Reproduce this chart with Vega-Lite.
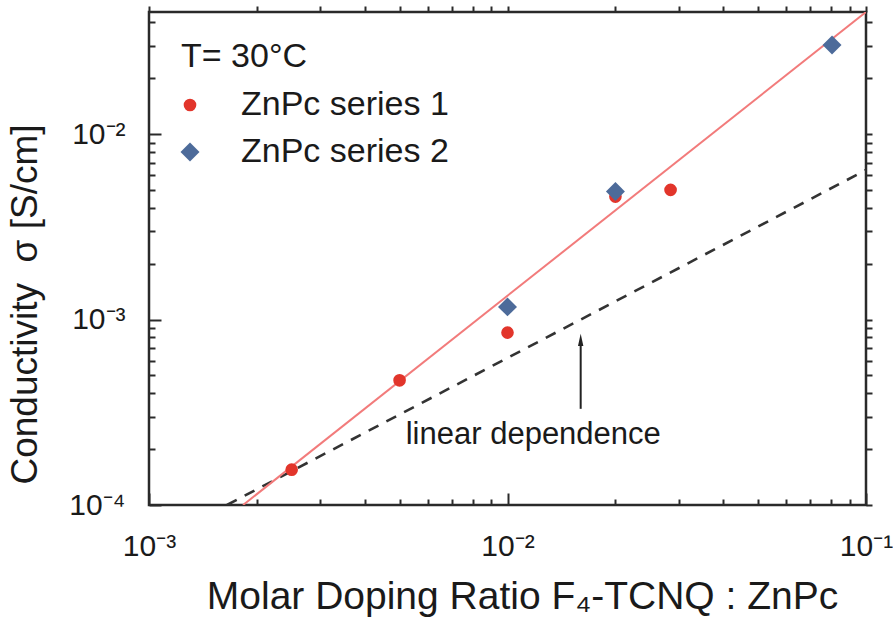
{
  "$schema": "https://vega.github.io/schema/vega-lite/v6.json",
  "width": 717,
  "height": 493,
  "autosize": {"type": "none"},
  "padding": {"left": 149, "top": 12, "right": 27, "bottom": 125},
  "background": "white",
  "config": {
    "font": "Liberation Sans",
    "view": {"stroke": "#2a2a2a", "strokeWidth": 2.5},
    "axis": {"domain": false, "grid": false, "tickColor": "#2a2a2a", "tickWidth": 2, "labelColor": "#1a1a1a", "titleColor": "#1a1a1a", "titleFontWeight": "normal", "labelFont": "Liberation Sans", "titleFont": "Liberation Sans"}
  },
  "datasets": {
    "points": [
      {"ratio": 0.0025, "sigma": 0.000155, "series": "ZnPc series 1"},
      {"ratio": 0.005, "sigma": 0.00047, "series": "ZnPc series 1"},
      {"ratio": 0.01, "sigma": 0.00085, "series": "ZnPc series 1"},
      {"ratio": 0.02, "sigma": 0.0046, "series": "ZnPc series 1"},
      {"ratio": 0.0285, "sigma": 0.005, "series": "ZnPc series 1"},
      {"ratio": 0.01, "sigma": 0.00117, "series": "ZnPc series 2"},
      {"ratio": 0.02, "sigma": 0.0049, "series": "ZnPc series 2"},
      {"ratio": 0.0804, "sigma": 0.0302, "series": "ZnPc series 2"}
    ],
    "fit": [
      {"ratio": 0.00183, "sigma": 0.0001},
      {"ratio": 0.1, "sigma": 0.0455}
    ],
    "linear": [
      {"ratio": 0.00165, "sigma": 0.0001},
      {"ratio": 0.1, "sigma": 0.0064}
    ],
    "arrow": [
      {"ratio": 0.016, "lo": 0.00033, "hi": 0.00074, "tip": 0.00077}
    ],
    "label": [
      {"ratio": 0.0118, "sigma": 0.000238, "text": "linear dependence"}
    ]
  },
  "resolve": {"axis": {"x": "independent", "y": "independent"}},
  "layer": [
    {
      "data": {"name": "linear"},
      "mark": {"type": "line", "color": "#333333", "strokeWidth": 2.6, "strokeDash": [11, 9], "clip": true},
      "encoding": {
        "x": {"field": "ratio", "type": "quantitative",
          "scale": {"type": "log", "domain": [0.001, 0.1], "nice": false},
          "axis": {"orient": "bottom", "title": "Molar Doping Ratio F₄-TCNQ : ZnPc", "titleFontSize": 39, "titlePadding": 10, "titleX": 373,
            "values": [0.001,0.002,0.003,0.004,0.005,0.006,0.007,0.008,0.009,0.01,0.02,0.03,0.04,0.05,0.06,0.07,0.08,0.09,0.1],
            "labelExpr": "datum.value == 0.001 ? '10⁻³' : datum.value == 0.01 ? '10⁻²' : datum.value == 0.1 ? '10⁻¹' : ''",
            "labelFontSize": 30, "labelPadding": 38, "labelFlush": false, "labelOverlap": false,
            "tickSize": {"condition": {"test": "datum.value == 0.001 || datum.value == 0.01 || datum.value == 0.1", "value": -12}, "value": -6},
            "encode": {"ticks": {"update": {"y2": {"signal": "(datum.value == 0.001 || datum.value == 0.01 || datum.value == 0.1) ? -12 : -6"}}}}}},
        "y": {"field": "sigma", "type": "quantitative",
          "scale": {"type": "log", "domain": [0.0001, 0.0455], "nice": false},
          "axis": {"orient": "left", "title": "Conductivity\u00a0\u00a0σ [S/cm]", "titleFontSize": 37, "titlePadding": 24, "titleY": 292,
            "values": [0.0001,0.0002,0.0003,0.0004,0.0005,0.0006,0.0007,0.0008,0.0009,0.001,0.002,0.003,0.004,0.005,0.006,0.007,0.008,0.009,0.01,0.02,0.03,0.04],
            "labelExpr": "datum.value == 0.0001 ? '10⁻⁴' : datum.value == 0.001 ? '10⁻³' : datum.value == 0.01 ? '10⁻²' : ''",
            "labelFontSize": 30, "labelPadding": 36, "labelFlush": false, "labelOverlap": false,
            "tickSize": {"condition": {"test": "datum.value == 0.0001 || datum.value == 0.001 || datum.value == 0.01", "value": -12}, "value": -6},
            "encode": {"ticks": {"update": {"x2": {"signal": "(datum.value == 0.0001 || datum.value == 0.001 || datum.value == 0.01) ? 12 : 6"}}}}}}
      }
    },
    {
      "data": {"name": "fit"},
      "mark": {"type": "line", "color": "#f27b7b", "strokeWidth": 2, "clip": true},
      "encoding": {
        "x": {"field": "ratio", "type": "quantitative",
          "axis": {"orient": "top", "title": null, "labels": false,
            "values": [0.001,0.002,0.003,0.004,0.005,0.006,0.007,0.008,0.009,0.01,0.02,0.03,0.04,0.05,0.06,0.07,0.08,0.09,0.1],
            "tickSize": 6,
            "encode": {"ticks": {"update": {"y2": {"signal": "(datum.value == 0.001 || datum.value == 0.01 || datum.value == 0.1) ? 12 : 6"}}}}}},
        "y": {"field": "sigma", "type": "quantitative",
          "axis": {"orient": "right", "title": null, "labels": false,
            "values": [0.0001,0.0002,0.0003,0.0004,0.0005,0.0006,0.0007,0.0008,0.0009,0.001,0.002,0.003,0.004,0.005,0.006,0.007,0.008,0.009,0.01,0.02,0.03,0.04],
            "tickSize": 6,
            "encode": {"ticks": {"update": {"x2": {"signal": "(datum.value == 0.0001 || datum.value == 0.001 || datum.value == 0.01) ? -12 : -6"}}}}}}
      }
    },
    {
      "data": {"name": "arrow"},
      "mark": {"type": "rule", "color": "#222222", "strokeWidth": 2},
      "encoding": {
        "x": {"field": "ratio", "type": "quantitative", "axis": null},
        "y": {"field": "lo", "type": "quantitative", "axis": null},
        "y2": {"field": "hi"}
      }
    },
    {
      "data": {"name": "arrow"},
      "mark": {"type": "point", "shape": "M0,-1L0.4,0.8L-0.4,0.8Z", "filled": true, "color": "#222222", "size": 180, "opacity": 1},
      "encoding": {
        "x": {"field": "ratio", "type": "quantitative", "axis": null},
        "y": {"field": "tip", "type": "quantitative", "axis": null}
      }
    },
    {
      "data": {"name": "label"},
      "mark": {"type": "text", "fontSize": 31, "color": "#1a1a1a", "align": "center", "baseline": "middle"},
      "encoding": {
        "x": {"field": "ratio", "type": "quantitative", "axis": null},
        "y": {"field": "sigma", "type": "quantitative", "axis": null},
        "text": {"field": "text"}
      }
    },
    {
      "data": {"name": "points"},
      "mark": {"type": "point", "filled": true, "opacity": 1},
      "encoding": {
        "x": {"field": "ratio", "type": "quantitative", "axis": null},
        "y": {"field": "sigma", "type": "quantitative", "axis": null},
        "color": {"field": "series", "type": "nominal",
          "scale": {"domain": ["ZnPc series 1", "ZnPc series 2"], "range": ["#e2352b", "#4d6b9a"]},
          "legend": {"orient": "none", "legendX": 32, "legendY": 28, "title": "T= 30°C", "titleFontSize": 34, "titleFontWeight": "normal", "titleColor": "#1a1a1a", "titlePadding": 14, "titleLimit": 0,
            "labelFontSize": 34, "labelColor": "#1a1a1a", "labelOffset": 34, "labelLimit": 0, "rowPadding": 13, "symbolOffset": -8, "padding": 0}},
        "shape": {"field": "series", "type": "nominal",
          "scale": {"domain": ["ZnPc series 1", "ZnPc series 2"], "range": ["circle", "diamond"]}},
        "size": {"field": "series", "type": "nominal",
          "scale": {"domain": ["ZnPc series 1", "ZnPc series 2"], "range": [160, 360]}}
      }
    }
  ]
}
